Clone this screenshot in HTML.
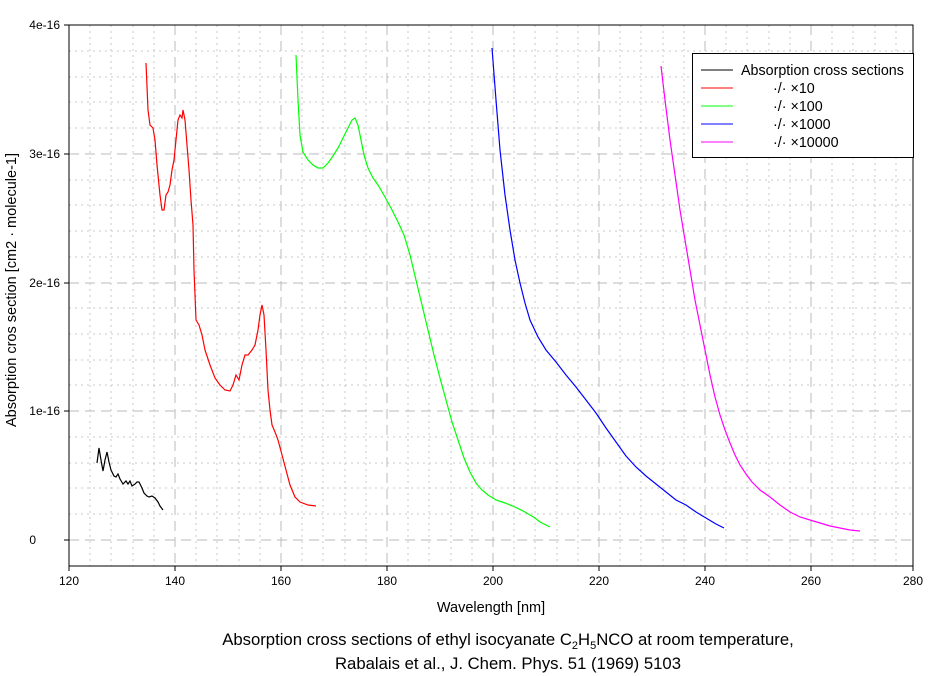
<!DOCTYPE html><html><head><style>body{margin:0;background:#fff}svg{display:block;font-family:"Liberation Sans",sans-serif}</style></head><body>
<svg width="940" height="676" xmlns="http://www.w3.org/2000/svg">
<rect width="940" height="676" fill="#fff"/>
<g stroke="#c8c8c8" stroke-dasharray="2,4" stroke-width="1">
<path d="M90,25V566M111,25V566M133,25V566M154,25V566M196,25V566M217,25V566M239,25V566M260,25V566M302,25V566M323,25V566M345,25V566M366,25V566M408,25V566M429,25V566M451,25V566M472,25V566M514,25V566M535,25V566M557,25V566M578,25V566M620,25V566M641,25V566M663,25V566M684,25V566M726,25V566M747,25V566M769,25V566M790,25V566M832,25V566M853,25V566M875,25V566M896,25V566"/>
<path d="M69,514H913M69,488H913M69,463H913M69,437H913M69,385H913M69,360H913M69,334H913M69,308H913M69,257H913M69,231H913M69,205H913M69,180H913M69,128H913M69,102H913M69,77H913M69,51H913"/>
</g>
<g stroke="#bbb" stroke-dasharray="10,6" stroke-width="1">
<path d="M175,25V566M281,25V566M387,25V566M493,25V566M599,25V566M705,25V566M811,25V566"/>
<path d="M69,540H913M69,411H913M69,283H913M69,154H913"/>
</g>
<rect x="69" y="25" width="844" height="541" fill="none" stroke="#000"/>
<g stroke="#000"><path d="M64,540H69M64,411H69M64,283H69M64,154H69M64,25H69M69,566V571M175,566V571M281,566V571M387,566V571M493,566V571M599,566V571M705,566V571M811,566V571M913,566V571"/></g>
<g font-size="12" fill="#000" text-anchor="end">
<text x="36" y="544">0</text><text x="60" y="415">1e-16</text><text x="60" y="287">2e-16</text><text x="60" y="158">3e-16</text><text x="60" y="29">4e-16</text></g>
<g font-size="12" text-anchor="middle">
<text x="69" y="585">120</text><text x="175" y="585">140</text><text x="281" y="585">160</text><text x="387" y="585">180</text><text x="493" y="585">200</text><text x="599" y="585">220</text><text x="705" y="585">240</text><text x="811" y="585">260</text><text x="913" y="585">280</text>
<text x="491" y="612" font-size="14.5">Wavelength [nm]</text>
<text x="16" y="290" font-size="14.5" transform="rotate(-90 16 290)">Absorption cros section [cm2 · molecule-1]</text>
<text x="508" y="645" font-size="16.7">Absorption cross sections of ethyl isocyanate C<tspan font-size="11" dy="4">2</tspan><tspan dy="-4">H</tspan><tspan font-size="11" dy="4">5</tspan><tspan dy="-4">NCO at room temperature,</tspan></text>
<text x="508" y="669" font-size="16.7">Rabalais et al., J. Chem. Phys. 51 (1969) 5103</text>
</g>
<g fill="none" stroke-width="1.2">
<polyline stroke="#000" points="97,463 99,448 101,460 103,471 105,460 107,452 109,462 111,470 114,476 116,477 118,474 120,479 123,484 126,481 128,484 130,481 132,486 135,484 137,482 139,482 142,488 144,493 147,496 149,497 152,496 155,498 158,502 160,506 163,510"/>
<polyline stroke="#f00" points="146,63 148,110 150,125 153,128 155,140 157,165 160,195 162,210 164,210 166,195 168,192 170,185 172,170 174,160 176,140 178,120 180,115 182,118 183,110 185,120 187,145 189,170 191,200 193,225 194,270 196,320 199,325 202,335 205,350 210,365 215,378 220,385 225,390 230,391 233,385 236,375 239,380 242,365 245,355 248,355 252,350 255,345 258,330 260,315 262,305 264,315 266,350 268,390 270,410 272,425 275,432 278,440 282,455 286,470 290,485 295,497 300,502 308,505 316,506"/>
<polyline stroke="#0f0" points="296,55 298,100 300,135 303,152 308,160 313,165 318,168 323,168 328,163 333,156 338,148 343,138 348,128 352,120 355,118 358,125 361,140 364,155 368,168 373,178 378,185 385,197 392,210 398,222 404,235 410,255 416,280 422,305 428,330 434,355 440,378 446,400 452,422 458,440 464,458 470,472 476,483 482,490 488,495 496,500 505,503 515,507 525,512 535,518 540,522 550,527"/>
<polyline stroke="#00f" points="492,48 496,100 500,150 505,195 510,230 515,260 520,283 525,303 530,320 538,337 546,350 556,362 566,375 576,387 586,400 596,413 606,428 616,442 626,456 636,467 646,476 656,484 666,492 676,500 686,505 696,512 706,518 716,524 724,528"/>
<polyline stroke="#f0f" points="661,66 665,100 670,140 675,175 680,210 685,240 690,270 695,300 700,325 705,350 710,375 715,397 720,415 725,430 730,443 735,455 740,465 746,474 752,482 760,490 770,497 780,505 790,512 800,517 810,520 820,523 830,526 840,528 850,530 860,531"/>
</g>
<rect x="692.5" y="53.5" width="221" height="104" fill="#fff" stroke="#000"/>
<g stroke-width="1"><path d="M701,70H733" stroke="#000"/><path d="M701,88H733" stroke="#f00"/><path d="M701,106H733" stroke="#0f0"/><path d="M701,124H733" stroke="#00f"/><path d="M701,142H733" stroke="#f0f"/></g>
<g font-size="14.3"><text x="741" y="75">Absorption cross sections</text><text x="773" y="93">·/· ×10</text><text x="773" y="111">·/· ×100</text><text x="773" y="129">·/· ×1000</text><text x="773" y="147">·/· ×10000</text></g>
</svg></body></html>
